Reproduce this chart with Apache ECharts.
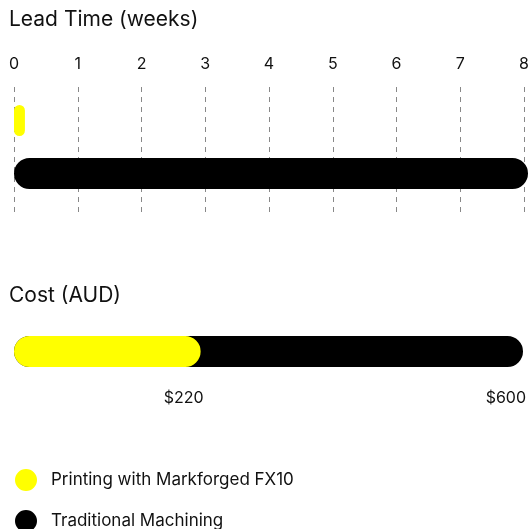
<!DOCTYPE html>
<html>
<head>
<meta charset="utf-8">
<script src="https://cdn.jsdelivr.net/npm/echarts@6/dist/echarts.min.js"></script>
<style>
  html, body { margin: 0; padding: 0; background: #fff; }
  #main { width: 532px; height: 529px; }
</style>
</head>
<body>
<div id="main"></div>
<script>
// data
const seriesNames = ['Printing with Markforged FX10', 'Traditional Machining'];
const seriesColors = ['#ffff00', '#000000'];
const leadTimeWeeks = [0.17, 8];
const costAud = [220, 600];
const weekMin = 0;
const weekMax = 8;
const costMax = 600;

const font = 'Inter, "Noto Sans", sans-serif';
const textColor = '#111';

let chartDom = document.getElementById('main');
let myChart = echarts.init(chartDom);

// bars are drawn with a same-colour border so the caps stick out a little, like the original
const barStyle = (i) => ({
  color: seriesColors[i],
  borderColor: seriesColors[i],
  borderWidth: 4,
  borderRadius: 16,
});

const titleStyle = {fontSize: 21, fontWeight: 'normal', color: textColor, fontFamily: font};

// one legend per row, stacked
const legendRow = (i, top) => ({
  data: [seriesNames[i]],
  left: 10,
  top: top,
  icon: 'circle',
  itemWidth: 20,
  itemHeight: 20,
  textStyle: {fontSize: 17, color: textColor, fontFamily: font, padding: [0, 0, 0, 10]},
});

const costLabel = {
  show: true, position: ['100%', 62], offset: [3, 0],
  align: 'right', verticalAlign: 'middle',
  formatter: (p) => '$' + p.value,
  fontSize: 16, color: textColor, fontFamily: font,
};

let option = {
  animation: false,
  textStyle: {fontFamily: font},
  title: [
    {text: 'Lead Time (weeks)', left: 4, top: 4, textStyle: titleStyle},
    {text: 'Cost (AUD)', left: 4, top: 280, textStyle: titleStyle},
  ],
  legend: [legendRow(0, 464), legendRow(1, 505)],
  grid: [
    // axis + dashed lines for lead time
    {left: 14, right: 4, top: 87, height: 130},
    // lead time bars
    {left: 14, right: 4, top: 103, height: 88},
    // cost bars
    {left: 14, right: 9, top: 334, height: 35},
  ],
  xAxis: [
    {
      gridIndex: 0, type: 'value', position: 'top',
      min: weekMin, max: weekMax, interval: 1,
      axisLine: {show: false}, axisTick: {show: false},
      axisLabel: {fontSize: 16, color: textColor, margin: 15, fontFamily: font},
      splitLine: {show: true, lineStyle: {color: '#888', width: 1, type: [5, 5]}},
    },
    {gridIndex: 1, type: 'value', min: weekMin, max: weekMax, show: false},
    {gridIndex: 2, type: 'value', min: 0, max: costMax, show: false},
  ],
  yAxis: [
    {gridIndex: 0, type: 'category', data: [''], show: false},
    {gridIndex: 1, type: 'category', data: ['Lead Time'], show: false},
    {gridIndex: 2, type: 'category', data: ['Cost'], show: false},
  ],
  series: [
    {
      name: seriesNames[0], type: 'bar', xAxisIndex: 1, yAxisIndex: 1,
      data: [leadTimeWeeks[0]], barWidth: 31, barGap: '71%',
      itemStyle: barStyle(0),
    },
    {
      name: seriesNames[1], type: 'bar', xAxisIndex: 1, yAxisIndex: 1,
      data: [leadTimeWeeks[1]], barWidth: 31, barGap: '71%',
      itemStyle: barStyle(1),
    },
    {
      name: seriesNames[1], type: 'bar', xAxisIndex: 2, yAxisIndex: 2,
      data: [costAud[1]], barWidth: 31, barGap: '-100%',
      itemStyle: barStyle(1),
      label: costLabel,
    },
    {
      name: seriesNames[0], type: 'bar', xAxisIndex: 2, yAxisIndex: 2,
      data: [costAud[0]], barWidth: 31, barGap: '-100%',
      itemStyle: barStyle(0),
      label: costLabel,
    },
  ],
};

option && myChart.setOption(option);
</script>
</body>
</html>
